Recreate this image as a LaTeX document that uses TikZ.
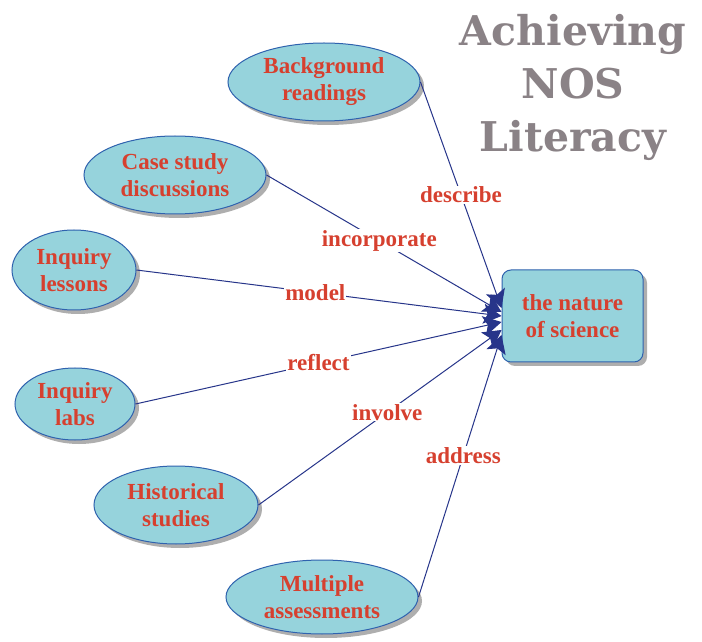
\documentclass[tikz,border=0pt]{standalone}
\usepackage{fontspec}
\setmainfont{Liberation Serif}
\newfontfamily\titlefont{DejaVu Serif}
\usetikzlibrary{shapes.geometric,shadows,arrows.meta}
\definecolor{nfill}{HTML}{96D3DC}
\definecolor{nborder}{HTML}{2F62AE}
\definecolor{ntext}{HTML}{D6402F}
\definecolor{lcol}{HTML}{27358A}
\definecolor{tgray}{HTML}{8A8286}
\tikzset{
  shad/.style={drop shadow={shadow xshift=4pt,shadow yshift=-4pt,fill=black!45,opacity=0.7}},
  oval/.style={ellipse,draw=nborder,line width=1pt,fill=nfill,shad,inner sep=0pt,
    font=\fontsize{23}{27}\selectfont\bfseries,text=ntext,align=center},
  target/.style={rectangle,rounded corners=9pt,draw=nborder,line width=1pt,fill=nfill,shad,
    minimum width=141pt,minimum height=92pt,font=\fontsize{23}{27}\selectfont\bfseries,text=ntext,align=center},
  link/.style={draw=lcol,line width=1pt,-{Stealth[length=18pt,width=20pt,inset=4pt]}},
  lbl/.style={fill=white,inner sep=1pt,font=\fontsize{23}{26}\selectfont\bfseries,text=ntext},
  ttl/.style={font=\titlefont\fontsize{41}{53}\selectfont\bfseries,text=tgray,align=center}
}
\begin{document}
\begin{tikzpicture}[x=1pt,y=1pt]
\useasboundingbox[fill=white] (0,0) rectangle (702,641);
\node[ttl] (title) at (573,554) {Achieving\\NOS\\Literacy};
\node[oval,minimum width=192pt,minimum height=78pt] (bg) at (324,559) {Background\\readings};
\node[oval,minimum width=182pt,minimum height=78pt] (cs) at (175,466) {Case study\\discussions};
\node[oval,minimum width=124pt,minimum height=80pt] (il) at (74,371) {Inquiry\\lessons};
\node[oval,minimum width=120pt,minimum height=72pt] (lab) at (75,237) {Inquiry\\labs};
\node[oval,minimum width=164pt,minimum height=78pt] (hs) at (176,136) {Historical\\studies};
\node[oval,minimum width=192pt,minimum height=74pt] (ma) at (322,44) {Multiple\\assessments};
\node[target] (box) at (572.5,325) {the nature\\of science};
\draw[link] (bg.east) -- ([yshift=8pt]box.west) node[lbl,pos=0.5] {describe};
\draw[link] (cs.east) -- ([yshift=4pt]box.west) node[lbl,pos=0.48] {incorporate};
\draw[link] (il.east) -- ([yshift=0pt]box.west) node[lbl,pos=0.49] {model};
\draw[link] (lab.east) -- ([yshift=-6pt]box.west) node[lbl,pos=0.5] {reflect};
\draw[link] (hs.east) -- ([yshift=-14pt]box.west) node[lbl,pos=0.53] {involve};
\draw[link] (ma.east) -- ([yshift=-19pt]box.west) node[lbl,pos=0.54] {address};
\end{tikzpicture}
\end{document}
